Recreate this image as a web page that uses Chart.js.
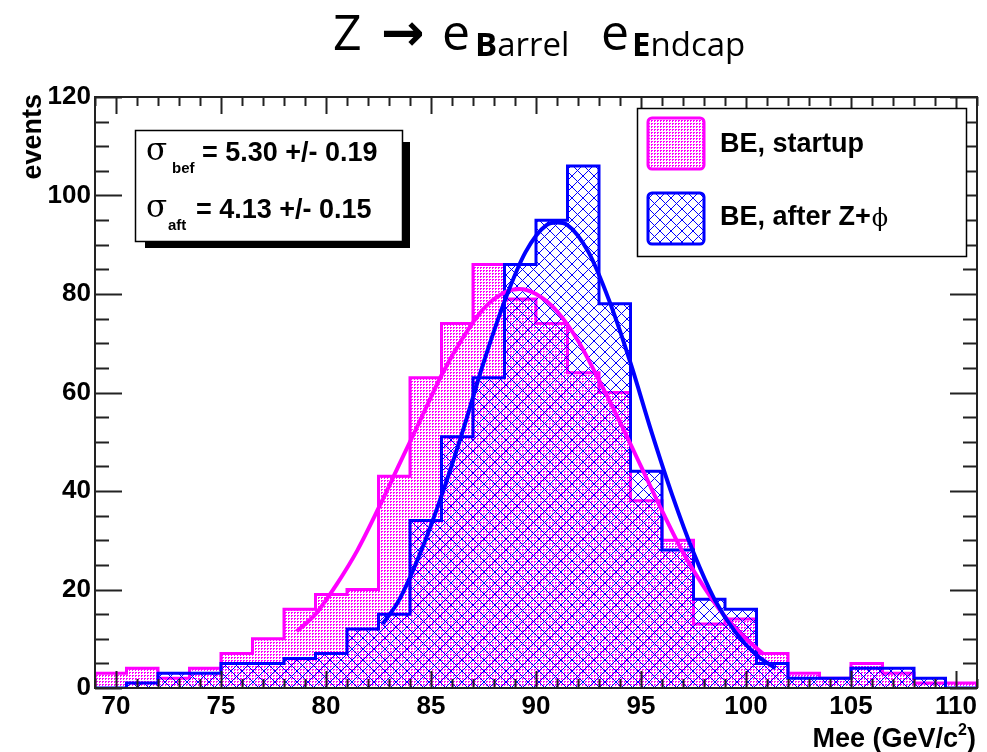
<!DOCTYPE html>
<html>
<head>
<meta charset="utf-8">
<script src="https://cdn.jsdelivr.net/npm/chart.js@4.4.1/dist/chart.umd.min.js"></script>
<style>
  html, body { margin: 0; padding: 0; background: #fff; }
  canvas { display: block; }
</style>
</head>
<body>
<canvas id="myChart" width="987" height="752"></canvas>
<script>
// histogram bin edges, Mee in GeV/c^2
const binEdges = [69, 70.5, 72, 73.5, 75, 76.5, 78, 79.5, 81, 82.5, 84, 85.5, 87, 88.5, 90, 91.5, 93, 94.5, 96, 97.5, 99, 100.5, 102, 103.5, 105, 106.5, 108, 109.5, 111];

// events per bin
const startupCounts = [3, 4, 2, 4, 7, 10, 16, 19, 20, 43, 63, 74, 86, 79, 74, 64, 60, 38, 30, 13, 14, 7, 3, 2, 5, 3, 1, 1];
const afterCounts = [0, 1, 3, 3, 5, 5, 6, 7, 12, 15, 34, 51, 63, 86, 95, 106, 78, 44, 28, 18, 16, 5, 2, 2, 4, 4, 2, 0];

// fitted curves
const startupFitX = [78.6, 79.5, 80.5, 81.5, 82.5, 83.5, 84.5, 85.5, 86.5, 87.5, 88.5, 89.2, 90, 91, 92, 93, 94, 95, 96, 97, 98, 99, 100, 100.8];
const startupFitY = [11.5, 15, 21, 28, 36.5, 45.5, 54.5, 63.5, 71, 77, 80.3, 81, 80, 76.5, 70.5, 62.5, 54, 45, 36, 27.5, 20.5, 14.5, 10, 7];
const afterFitX = [82.7, 83.5, 84.5, 85.5, 86.5, 87.5, 88.5, 89.5, 90.5, 91, 91.5, 92.5, 93.5, 94.5, 95.5, 96.5, 97.5, 98.5, 99.5, 100.5, 101.4];
const afterFitY = [13, 18, 27.5, 39, 52, 66, 78.5, 88.5, 94, 94.5, 94, 88.5, 78.5, 66, 52, 39, 27.5, 18, 11.3, 6.7, 4];

const xTickValues = [70, 75, 80, 85, 90, 95, 100, 105, 110];
const yTickValues = [0, 20, 40, 60, 80, 100, 120];

const PINK = '#ff00ff';
const BLUE = '#0000ff';
const SANS = '"Liberation Sans", Arial, sans-serif';

// fill patterns like the ROOT hatches
const makePattern = (size, draw) => {
  const c = document.createElement('canvas');
  c.width = size;
  c.height = size;
  const g = c.getContext('2d');
  draw(g, size);
  return g.createPattern(c, 'repeat');
}

const dotPattern = makePattern(3, (g) => {
  g.fillStyle = PINK;
  g.fillRect(0, 0, 2, 1);
  g.fillRect(0, 1, 1, 1);
});

const crossPattern = makePattern(11, (g, s) => {
  g.fillStyle = BLUE;
  for (let i = 0; i < s; i++) {
    g.fillRect(i, i, 1, 1);
    g.fillRect(s - 1 - i, i, 1, 1);
  }
});

// turn bin contents into an outline of steps
const stepPoints = (counts) => {
  const pts = [{ x: binEdges[0], y: 0 }];
  counts.forEach((c, i) => {
    pts.push({ x: binEdges[i], y: c });
    pts.push({ x: binEdges[i + 1], y: c });
  });
  pts.push({ x: binEdges[binEdges.length - 1], y: 0 });
  return pts;
}

const curvePoints = (xs, ys) => xs.map((x, i) => ({ x: x, y: ys[i] }));

const data = {
  datasets: [
    {
      label: 'after fit',
      data: curvePoints(afterFitX, afterFitY),
      borderColor: BLUE,
      borderWidth: 4,
      cubicInterpolationMode: 'monotone',
      pointRadius: 0,
      fill: false
    },
    {
      label: 'startup fit',
      data: curvePoints(startupFitX, startupFitY),
      borderColor: PINK,
      borderWidth: 4,
      cubicInterpolationMode: 'monotone',
      pointRadius: 0,
      fill: false
    },
    {
      label: 'BE, after Z+\u03d5',
      data: stepPoints(afterCounts),
      borderColor: BLUE,
      backgroundColor: crossPattern,
      borderWidth: 3,
      tension: 0,
      pointRadius: 0,
      fill: 'origin'
    },
    {
      label: 'BE, startup',
      data: stepPoints(startupCounts),
      borderColor: PINK,
      backgroundColor: dotPattern,
      borderWidth: 3,
      tension: 0,
      pointRadius: 0,
      fill: 'origin'
    }
  ]
};

// frame, ticks, boxes and titles drawn on top
const rootStyle = {
  id: 'rootStyle',
  afterDatasetsDraw(chart) {
    const { ctx, chartArea: a, scales: { x, y } } = chart;
    ctx.save();

    // frame
    ctx.strokeStyle = '#222';
    ctx.lineWidth = 2;
    ctx.strokeRect(a.left, a.top, a.right - a.left, a.bottom - a.top);

    // x ticks, bottom and top
    ctx.beginPath();
    for (let v = 69; v <= 111; v++) {
      const px = Math.round(x.getPixelForValue(v)) + 0.5;
      const len = v % 5 === 0 ? 17 : 9;
      ctx.moveTo(px, a.bottom);
      ctx.lineTo(px, a.bottom - len);
      ctx.moveTo(px, a.top);
      ctx.lineTo(px, a.top + len);
    }
    // y ticks, left and right
    for (let v = 0; v <= 120; v += 5) {
      const py = Math.round(y.getPixelForValue(v)) + 0.5;
      const len = v % 20 === 0 ? 27 : 14;
      ctx.moveTo(a.left, py);
      ctx.lineTo(a.left + len, py);
      ctx.moveTo(a.right, py);
      ctx.lineTo(a.right - len, py);
    }
    ctx.lineWidth = 2;
    ctx.stroke();

    ctx.textBaseline = 'alphabetic';
    ctx.textAlign = 'left';

    // stats box with shadow
    ctx.fillStyle = '#000';
    ctx.fillRect(145, 142, 265, 106);
    ctx.fillStyle = '#fff';
    ctx.fillRect(135, 130, 268, 112);
    ctx.strokeStyle = '#000';
    ctx.lineWidth = 1.5;
    ctx.strokeRect(135.5, 130.5, 267, 111);

    ctx.fillStyle = '#000';
    ctx.font = '31px "DejaVu Serif", serif';
    ctx.fillText('\u03c3', 146, 160);
    ctx.fillText('\u03c3', 146, 217);
    ctx.font = 'bold 15px ' + SANS;
    ctx.fillText('bef', 172, 173);
    ctx.fillText('aft', 168, 230);
    ctx.font = 'bold 27px ' + SANS;
    ctx.fillText('= 5.30 +/- 0.19', 202, 161);
    ctx.fillText('= 4.13 +/- 0.15', 196, 218);

    // legend
    ctx.fillStyle = '#fff';
    ctx.fillRect(637, 108, 330, 149);
    ctx.strokeStyle = '#000';
    ctx.lineWidth = 1.5;
    ctx.strokeRect(637.5, 108.5, 329, 148);

    const swatch = (top, fill, line) => {
      ctx.beginPath();
      ctx.roundRect(648, top, 56, 51, 4);
      ctx.fillStyle = fill;
      ctx.fill();
      ctx.strokeStyle = line;
      ctx.lineWidth = 3;
      ctx.stroke();
    }
    swatch(118, dotPattern, PINK);
    swatch(193, crossPattern, BLUE);

    ctx.fillStyle = '#000';
    ctx.font = 'bold 27px ' + SANS;
    ctx.fillText('BE, startup', 720, 152);
    ctx.fillText('BE, after Z+', 720, 225);
    const w1 = ctx.measureText('BE, after Z+').width;
    ctx.font = '24px "DejaVu Serif", serif';
    ctx.fillText('\u03d5', 720 + w1 + 1, 226);

    // x axis title, right aligned
    ctx.font = 'bold 27px ' + SANS;
    const wParen = ctx.measureText(')').width;
    const parenX = 976 - wParen;
    ctx.fillText(')', parenX, 747);
    ctx.font = 'bold 16px ' + SANS;
    const wTwo = ctx.measureText('2').width;
    ctx.fillText('2', parenX - wTwo, 735);
    ctx.font = 'bold 27px ' + SANS;
    ctx.textAlign = 'right';
    ctx.fillText('Mee (GeV/c', parenX - wTwo, 747);

    // y axis title
    ctx.save();
    ctx.translate(41, 94);
    ctx.rotate(-Math.PI / 2);
    ctx.font = 'bold 27px ' + SANS;
    ctx.textAlign = 'right';
    ctx.fillText('events', 0, 0);
    ctx.restore();

    // title Z -> e_Barrel e_Endcap
    ctx.textAlign = 'left';
    const big = '50px "Open Sans", sans-serif';
    const subB = 'bold 33px "Open Sans", sans-serif';
    const subN = '33px "Open Sans", sans-serif';
    ctx.font = big;
    ctx.fillText('Z', 333, 50);
    ctx.font = 'bold 52px "DejaVu Sans", sans-serif';
    ctx.fillText('\u2192', 381, 50);
    ctx.font = big;
    ctx.fillText('e', 442, 50);
    ctx.font = subB;
    ctx.fillText('B', 475, 56);
    let wB = ctx.measureText('B').width;
    ctx.font = subN;
    ctx.fillText('arrel', 475 + wB, 56);
    ctx.font = big;
    ctx.fillText('e', 601, 50);
    ctx.font = subB;
    ctx.fillText('E', 632, 56);
    wB = ctx.measureText('E').width;
    ctx.font = subN;
    ctx.fillText('ndcap', 632 + wB, 56);

    ctx.restore();
  }
};

const config = {
  type: 'line',
  data: data,
  options: {
    responsive: false,
    animation: false,
    events: [],
    layout: { padding: { top: 97, right: 10, left: 0, bottom: 0 } },
    plugins: {
      legend: { display: false },
      tooltip: { enabled: false },
      title: { display: false }
    },
    scales: {
      x: {
        type: 'linear',
        min: 69,
        max: 111,
        afterBuildTicks: (s) => { s.ticks = xTickValues.map(v => ({ value: v })); },
        afterFit: (s) => { s.height = 64; },
        grid: { display: false, drawTicks: false },
        border: { display: false },
        ticks: {
          color: '#000',
          font: { family: SANS, size: 26, weight: 'bold' },
          padding: 3,
          maxRotation: 0,
          autoSkip: false
        }
      },
      y: {
        min: 0,
        max: 120,
        afterBuildTicks: (s) => { s.ticks = yTickValues.map(v => ({ value: v })); },
        afterFit: (s) => { s.width = 95; },
        grid: { display: false, drawTicks: false },
        border: { display: false },
        ticks: {
          color: '#000',
          font: { family: SANS, size: 26, weight: 'bold' },
          padding: 4
        }
      }
    }
  },
  plugins: [rootStyle]
};

const myChart = new Chart(document.getElementById('myChart'), config);
</script>
</body>
</html>
